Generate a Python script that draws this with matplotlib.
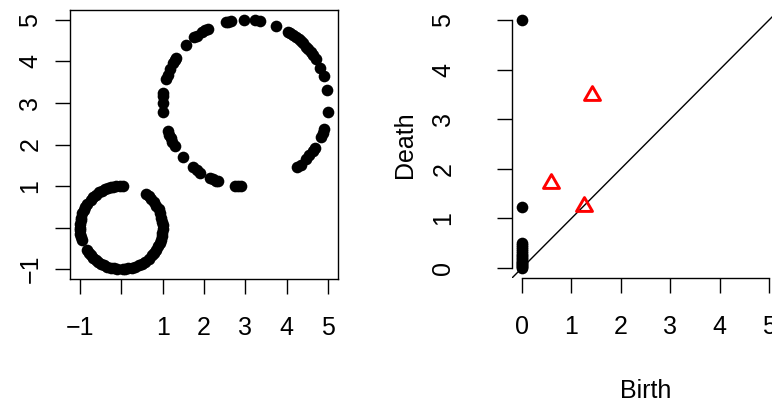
import numpy as np
import matplotlib
matplotlib.use('Agg')
import matplotlib.pyplot as plt
from matplotlib.path import Path

plt.rcParams['font.family'] = ['Liberation Sans', 'DejaVu Sans']

# point cloud: small circle (centre 0,0 r=1) and big circle (centre 3,3 r=2)
small_x = [0.03, -0.03, -0.12, -0.19, -0.24, -0.31, -0.39, -0.47, -0.53, -0.62,
           -0.68, -0.74, -0.82, -0.87, -0.91, -0.94, -0.97, -0.98, -1.00, -1.00,
           -1.00, -0.99, -0.97, -0.96, -0.84, -0.79, -0.74, -0.68, -0.62, -0.56,
           -0.48, -0.41, -0.34, -0.26, -0.17, -0.10, 0.03, 0.10, 0.17, 0.26,
           0.34, 0.44, 0.50, 0.57, 0.66, 0.74, 0.79, 0.84, 0.89, 0.93,
           0.96, 0.98, 0.99, 1.00, 1.00, 0.99, 0.97, 0.94, 0.90, 0.85,
           0.79, 0.72, 0.66, 0.60]
small_y = [1.00, 1.00, 0.99, 0.98, 0.97, 0.95, 0.92, 0.88, 0.85, 0.79,
           0.73, 0.67, 0.57, 0.50, 0.42, 0.34, 0.24, 0.17, 0.09, 0.00,
           -0.07, -0.16, -0.22, -0.29, -0.54, -0.62, -0.67, -0.73, -0.79, -0.83,
           -0.87, -0.91, -0.94, -0.97, -0.98, -0.99, -1.00, -0.99, -0.98, -0.97,
           -0.94, -0.90, -0.87, -0.82, -0.75, -0.67, -0.62, -0.54, -0.45, -0.37,
           -0.29, -0.21, -0.12, -0.03, 0.05, 0.14, 0.24, 0.34, 0.44, 0.53,
           0.62, 0.69, 0.75, 0.80]

big_x = [4.26, 4.34, 4.46, 4.55, 4.64, 4.68, 4.83, 4.87, 4.90, 4.99,
         4.98, 4.89, 4.81, 4.70, 4.64, 4.58, 4.51, 4.46, 4.39, 4.34,
         4.29, 4.23, 4.15, 4.09, 4.03, 3.75, 3.35, 3.24, 2.97, 2.65,
         2.58, 2.52, 2.09, 2.03, 1.94, 1.82, 1.77, 1.56, 1.32, 1.29,
         1.25, 1.17, 1.12, 1.09, 1.01, 1.01, 1.00, 1.01, 1.12, 1.16,
         1.19, 1.23, 1.29, 1.49, 1.74, 1.82, 1.91, 2.15, 2.22, 2.28,
         2.35, 2.76, 2.83, 2.90]
big_y = [1.45, 1.51, 1.64, 1.74, 1.85, 1.91, 2.19, 2.28, 2.38, 2.79,
         3.31, 3.65, 3.85, 4.06, 4.15, 4.23, 4.31, 4.36, 4.44, 4.49,
         4.53, 4.58, 4.64, 4.68, 4.71, 4.85, 4.97, 4.99, 5.00, 4.97,
         4.96, 4.94, 4.78, 4.75, 4.70, 4.62, 4.58, 4.39, 4.09, 4.03,
         3.97, 3.81, 3.68, 3.58, 3.24, 3.17, 3.00, 2.79, 2.32, 2.22,
         2.15, 2.06, 1.97, 1.69, 1.45, 1.38, 1.32, 1.19, 1.16, 1.13,
         1.11, 1.01, 1.01, 1.00]

# persistence diagram
dim0_birth = [0] * 20
dim0_death = [5.0, 1.23, 0.50, 0.46, 0.42, 0.38, 0.34, 0.30, 0.27, 0.24,
              0.21, 0.18, 0.15, 0.12, 0.10, 0.08, 0.06, 0.04, 0.02, 0.0]
dim1_birth = [1.41, 0.59, 1.25]
dim1_death = [3.53, 1.75, 1.29]

ticks_left = [-1, 0, 1, 2, 3, 4, 5]
ticklabels_left = ['\u22121', '', '1', '2', '3', '4', '5']
ticks_right = [0, 1, 2, 3, 4, 5]

W, H = 772, 401
fig = plt.figure(figsize=(W / 100, H / 100), dpi=100)

# left panel: point cloud
ax1 = fig.add_axes([70 / W, (H - 279) / H, 268 / W, 269 / H])
ax1.plot(small_x, small_y, 'o', color='black', ms=8.4, mew=0)
ax1.plot(big_x, big_y, 'o', color='black', ms=8.4, mew=0)
ax1.set_xlim(-1.24, 5.24)
ax1.set_ylim(-1.24, 5.24)
ax1.set_xticks(ticks_left)
ax1.set_xticklabels(ticklabels_left)
ax1.set_yticks(ticks_left)
ax1.set_yticklabels(ticklabels_left, rotation=90, va='center')
for s in ax1.spines.values():
    s.set_linewidth(1.0)
ax1.tick_params(length=10.8, width=1.0, labelsize=18)
ax1.tick_params(axis='x', pad=16)
ax1.tick_params(axis='y', pad=9)

# right panel: persistence diagram
# open equilateral triangle like R's pch = 2
tri = Path([(-1, -0.866), (1, -0.866), (0, 0.866), (-1, -0.866)],
           [Path.MOVETO, Path.LINETO, Path.LINETO, Path.CLOSEPOLY])
ax2 = fig.add_axes([512 / W, (H - 278) / H, 267 / W, 268 / H])
ax2.axline((0, 0), (1, 1), color='black', lw=1.0, zorder=1)
ax2.plot(dim0_birth, dim0_death, 'o', color='black', ms=8.4, mew=0, zorder=2,
         clip_on=False)
ax2.plot(dim1_birth, dim1_death, marker=tri, ls='none', mfc='none', mec='red',
         ms=11.5, mew=2.1, zorder=3)
ax2.set_xlim(-0.2, 5.2)
ax2.set_ylim(-0.2, 5.2)
ax2.set_xticks(ticks_right)
ax2.set_yticks(ticks_right)
ax2.set_yticklabels([str(t) for t in ticks_right], rotation=90, va='center')
ax2.spines['top'].set_visible(False)
ax2.spines['right'].set_visible(False)
ax2.spines['left'].set_bounds(0, 5)
ax2.spines['bottom'].set_bounds(0, 5)
ax2.spines['left'].set_linewidth(1.0)
ax2.spines['bottom'].set_linewidth(1.0)
ax2.tick_params(length=10.8, width=1.0, labelsize=18)
ax2.tick_params(axis='x', pad=16)
ax2.tick_params(axis='y', pad=30)

fig.text(405 / W, 1 - 145 / H, 'Death', rotation=90, ha='center', va='center',
         fontsize=18)
fig.text(646 / W, 3 / H, 'Birth', ha='center', va='baseline', fontsize=18)

fig.savefig('out.png', dpi=100)
